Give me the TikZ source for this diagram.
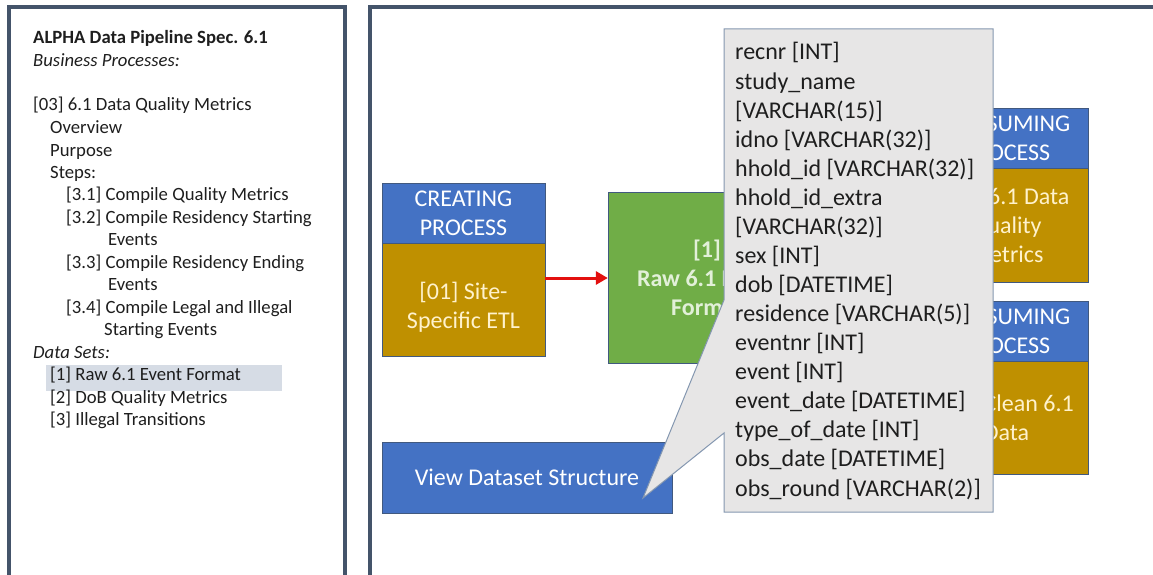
\documentclass[tikz,border=0pt]{standalone}
\usepackage{fontspec}
\setmainfont{Carlito}
\usetikzlibrary{arrows.meta,positioning}
\definecolor{frame}{HTML}{44546A}
\definecolor{edge}{HTML}{41597F}
\definecolor{hdrblue}{HTML}{4472C4}
\definecolor{gold}{HTML}{BF9000}
\definecolor{leaf}{HTML}{70AD47}
\definecolor{cream}{HTML}{FFF2CC}
\definecolor{mint}{HTML}{E2F0D9}
\definecolor{callgray}{HTML}{E7E6E6}
\definecolor{callline}{HTML}{8497B0}
\definecolor{hilite}{HTML}{D6DCE5}
\definecolor{txt}{HTML}{1E1E1E}
\definecolor{flow}{HTML}{E3100F}
\newcommand{\boxfont}{\fontsize{24}{29.3}\selectfont}
\newcommand{\navfont}{\fontsize{18.7}{22.47}\selectfont}

\begin{document}
\begin{tikzpicture}[x=1pt,y=-1pt,
    hdr/.style={draw=edge,fill=hdrblue,text=white,align=center,font=\boxfont,
      minimum width=163pt,minimum height=60pt,inner sep=0pt},
    procbody/.style={draw=edge,fill=gold,text=cream,align=center,font=\boxfont,
      minimum width=163pt,minimum height=113pt,inner sep=0pt},
    item/.style={anchor=base west,inner sep=0pt,text=txt,font=\navfont}]
  \useasboundingbox (0,0) rectangle (1153,575);
  \clip (0,0) rectangle (1153,575);

  % the two panels
  \draw[frame,line width=4pt] (9,7) rectangle (344.5,600);
  \draw[frame,line width=4pt] (369.5,7) rectangle (1170,600);

  % navigation list
  \fill[hilite] (46,365) rectangle (282,391);
  \node[item,font=\navfont\bfseries] (title) at (33,43.6) {ALPHA Data Pipeline Spec. 6.1};
  \node[item,font=\navfont\itshape] (bp) at (33,66.1) {Business Processes:};
  \node[item] (p03) at (33,111.0) {[03] 6.1 Data Quality Metrics};
  \node[item] (ov) at (50,133.5) {Overview};
  \node[item] (purp) at (50,156.0) {Purpose};
  \node[item] (steps) at (50,178.4) {Steps:};
  \node[item] (s31) at (66,200.9) {[3.1] Compile Quality Metrics};
  \node[item] (s32) at (66,223.4) {[3.2] Compile Residency Starting};
  \node[item] (s32b) at (108,245.8) {Events};
  \node[item] (s33) at (66,268.3) {[3.3] Compile Residency Ending};
  \node[item] (s33b) at (108,290.8) {Events};
  \node[item] (s34) at (66,313.2) {[3.4] Compile Legal and Illegal};
  \node[item] (s34b) at (104,335.7) {Starting Events};
  \node[item,font=\navfont\itshape] (ds) at (33,358.2) {Data Sets:};
  \node[item] (d1) at (50,380.7) {[1] Raw 6.1 Event Format};
  \node[item] (d2) at (50,403.1) {[2] DoB Quality Metrics};
  \node[item] (d3) at (50,425.6) {[3] Illegal Transitions};

  % consuming processes (partly behind the callout)
  \node[hdr] (conhdr) at (1006.5,138) {CONSUMING\\PROCESS};
  \node[procbody,minimum height=114pt] (conmetrics) at (1006.5,225) {[03] 6.1 Data\\Quality\\Metrics};
  \node[hdr] (conhdrb) at (1006.5,331) {CONSUMING\\PROCESS};
  \node[procbody] (conclean) at (1006.5,417.5) {[04] Clean 6.1\\Data};

  % creating process and data set
  \node[hdr] (crhdr) at (463.5,213) {CREATING\\PROCESS};
  \node[procbody] (crbody) at (463.5,299.5) {};
  \node[text=cream,align=center,font=\boxfont,inner sep=0pt] (crtext) at (463.5,307.5) {[01] Site-\\Specific ETL};
  \node[draw=edge,fill=leaf,text=mint,align=center,font=\boxfont\bfseries,
    minimum width=198pt,minimum height=171pt,inner sep=0pt] (raw) at (707,278) {[1]\\Raw 6.1 Event\\Format};
  \draw[-{Triangle[length=12pt,width=13pt]},flow,line width=3pt] (crbody.east |- raw.west) -- (raw.west);

  \node[draw=edge,fill=hdrblue,text=white,font=\boxfont,minimum width=290pt,
    minimum height=71pt,inner sep=0pt] (view) at (527,477.5) {View Dataset Structure};

  % field list callout
  \coordinate (tip) at (643,498);
  \filldraw[fill=callgray,draw=callline,line width=1pt] (724,29) -- (993,29) -- (993,512)
    -- (724,512) -- (724,433) -- (tip) -- (724,300) -- cycle;
  \node[anchor=base west,align=left,inner sep=0pt,text=txt,font=\fontsize{24}{29.07}\selectfont] (fields) at (735,496)
    {recnr [INT]\\study\_name\\{[VARCHAR(15)]}\\idno [VARCHAR(32)]\\hhold\_id [VARCHAR(32)]\\hhold\_id\_extra\\{[VARCHAR(32)]}\\sex [INT]\\dob [DATETIME]\\residence [VARCHAR(5)]\\eventnr [INT]\\event [INT]\\event\_date [DATETIME]\\type\_of\_date [INT]\\obs\_date [DATETIME]\\obs\_round [VARCHAR(2)]};
\end{tikzpicture}
\end{document}
